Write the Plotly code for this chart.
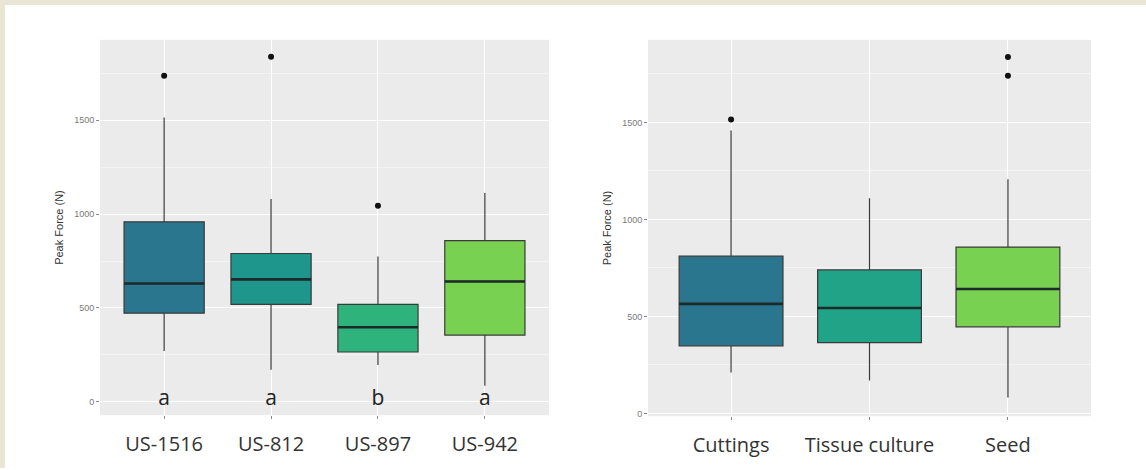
import plotly.graph_objects as go

# ---------------- data ----------------
genotypes = ["US-1516", "US-812", "US-897", "US-942"]
geno_q1 = [472, 519, 265, 355]
geno_median = [630, 652, 397, 641]
geno_q3 = [959, 790, 519, 859]
geno_low = [270, 170, 196, 85]
geno_high = [1515, 1081, 774, 1113]
geno_outliers = [[1738], [1839], [1044], []]
geno_letters = ["a", "a", "b", "a"]
geno_colors = ["#2A768E", "#1F968B", "#2DB37B", "#79D151"]

methods = ["Cuttings", "Tissue culture", "Seed"]
meth_q1 = [349, 365, 447]
meth_median = [565, 544, 642]
meth_q3 = [811, 740, 858]
meth_low = [211, 170, 82]
meth_high = [1459, 1109, 1207]
meth_outliers = [[1515], [], [1741, 1838]]
meth_colors = ["#2A768E", "#20A386", "#79D151"]

y_ticks = [0, 500, 1000, 1500]
letter_y = 10
BOX_W = 0.75

fig = go.Figure()


def add_panel(xa, ya, cats, q1, med, q3, lo, hi, outs, colors):
    for i, c in enumerate(cats):
        fig.add_trace(go.Box(
            x=[i], q1=[q1[i]], median=[med[i]], q3=[q3[i]],
            lowerfence=[lo[i]], upperfence=[hi[i]],
            width=BOX_W, whiskerwidth=0, fillcolor=colors[i],
            line=dict(color="#3a3a3a", width=1.2),
            boxpoints=False, showlegend=False, hoverinfo="skip",
            xaxis=xa, yaxis=ya, name=c))
        fig.add_trace(go.Scatter(
            x=[i - BOX_W / 2, i + BOX_W / 2], y=[med[i], med[i]],
            mode="lines", line=dict(color="#1c2a2a", width=2.6),
            showlegend=False, hoverinfo="skip", xaxis=xa, yaxis=ya))
        if outs[i]:
            fig.add_trace(go.Scatter(
                x=[i] * len(outs[i]), y=outs[i], mode="markers",
                marker=dict(color="#111111", size=6),
                showlegend=False, hoverinfo="skip", xaxis=xa, yaxis=ya))


add_panel("x", "y", genotypes, geno_q1, geno_median, geno_q3, geno_low,
          geno_high, geno_outliers, geno_colors)
add_panel("x2", "y2", methods, meth_q1, meth_median, meth_q3, meth_low,
          meth_high, meth_outliers, meth_colors)

fig.add_trace(go.Scatter(
    x=list(range(len(genotypes))), y=[letter_y] * len(genotypes),
    text=geno_letters, mode="text", textposition="middle center",
    textfont=dict(family="Open Sans", size=21, color="#222222"),
    showlegend=False, hoverinfo="skip", xaxis="x", yaxis="y"))

W, H = 1146, 470
common_x = dict(
    tickmode="array", showgrid=True, gridcolor="white", gridwidth=1.4,
    zeroline=False, ticks="outside", ticklen=3, tickcolor="#888888",
    tickfont=dict(family="Open Sans", size=20, color="#333333"),
    ticklabelstandoff=8, showline=False)
common_y = dict(
    tickmode="array", tickvals=y_ticks, ticktext=[str(v) for v in y_ticks],
    showgrid=True, gridcolor="white", gridwidth=1.4, zeroline=False,
    ticks="outside", ticklen=3, tickcolor="#888888",
    tickfont=dict(family="Liberation Sans", size=9, color="#7a7a7a"),
    minor=dict(dtick=250, tick0=0, showgrid=True, gridcolor="#f4f4f4",
               gridwidth=0.7, ticks=""),
    title=dict(text="Peak Force (N)",
               font=dict(family="Liberation Sans", size=11, color="#333333"),
               standoff=8),
    showline=False)

fig.update_layout(
    width=W, height=H,
    margin=dict(l=0, r=0, t=0, b=0),
    paper_bgcolor="white", plot_bgcolor="#EBEBEB",
    xaxis=dict(domain=[100 / W, 549 / W], range=[-0.6, 3.6],
               tickvals=list(range(len(genotypes))), ticktext=genotypes,
               anchor="y", **common_x),
    yaxis=dict(domain=[1 - 417 / H, 1 - 40 / H], range=[-72, 1929],
               anchor="x", **common_y),
    xaxis2=dict(domain=[648 / W, 1091 / W], range=[-0.6, 2.6],
                tickvals=list(range(len(methods))), ticktext=methods,
                anchor="y2", **common_x),
    yaxis2=dict(domain=[1 - 418 / H, 1 - 40 / H], range=[-14, 1926],
                anchor="x2", **common_y),
    shapes=[
        dict(type="rect", xref="paper", yref="paper", x0=0, x1=1,
             y0=1 - 5 / H, y1=1, fillcolor="#EAE6D6", line=dict(width=0),
             layer="above"),
        dict(type="rect", xref="paper", yref="paper", x0=0, x1=5 / W,
             y0=0, y1=1, fillcolor="#EAE6D6", line=dict(width=0),
             layer="above"),
    ],
)

fig.write_html(
    "out.html",
    config={"displayModeBar": False},
    post_script="document.body.style.margin='0';"
                "document.body.style.overflow='hidden';",
)
